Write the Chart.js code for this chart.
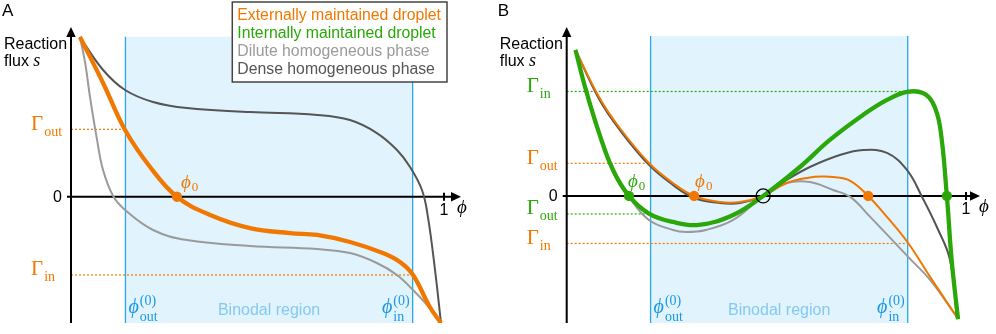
<!DOCTYPE html>
<html>
<head>
<meta charset="utf-8">
<script src="https://cdn.jsdelivr.net/npm/chart.js@4.4.1/dist/chart.umd.min.js"></script>
<style>
  html, body { margin: 0; padding: 0; background: #fff; }
  #wrap { position: relative; width: 996px; height: 334px; }
  canvas { position: absolute; top: 0; }
  #chartA { left: 0; }
  #chartB { left: 490px; }
</style>
</head>
<body>
<div id="wrap">
  <canvas id="chartA" width="490" height="334"></canvas>
  <canvas id="chartB" width="506" height="334"></canvas>
</div>
<script>
// ---- panel A: volume fraction phi vs reaction flux s ----
const phiExtA = [0.024, 0.086, 0.145, 0.212, 0.284, 0.373, 0.480, 0.587, 0.660, 0.748, 0.836, 0.882, 0.917, 0.962, 0.992];
const sExtA   = [0.998, 0.711, 0.417, 0.186, 0, -0.114, -0.196, -0.227, -0.239, -0.283, -0.352, -0.408, -0.489, -0.689, -0.789];

const phiDenseA = [0.024, 0.086, 0.145, 0.220, 0.311, 0.480, 0.660, 0.748, 0.820, 0.874, 0.909, 0.941, 0.957, 0.976, 0.992];
const sDenseA   = [0.998, 0.792, 0.667, 0.592, 0.554, 0.529, 0.511, 0.479, 0.398, 0.292, 0.186, 0.042, -0.127, -0.458, -0.789];

const phiDiluteA = [0.024, 0.038, 0.051, 0.070, 0.086, 0.113, 0.145, 0.220, 0.311, 0.480, 0.660, 0.748, 0.820, 0.874, 0.917, 0.962, 0.992];
const sDiluteA   = [0.998, 0.836, 0.623, 0.354, 0.167, 0.004, -0.083, -0.208, -0.271, -0.308, -0.327, -0.352, -0.414, -0.489, -0.583, -0.696, -0.789];

const binodalA = [0.146, 0.916];
const dotsExtA = [0.284];
const gammaOutA = 0.421, gammaInA = -0.489;

// ---- panel B ----
const phiIntB = [0.022, 0.048, 0.081, 0.116, 0.156, 0.206, 0.266, 0.331, 0.417, 0.492, 0.584, 0.659, 0.742, 0.802, 0.852, 0.892, 0.917, 0.935, 0.952, 0.964, 0.980];
const sIntB   = [0.9125, 0.6625, 0.394, 0.1625, 0, -0.11, -0.1625, -0.181, -0.119, 0, 0.181, 0.35, 0.506, 0.600, 0.650, 0.644, 0.581, 0.431, 0, -0.4, -0.77];

const phiExtB = [0.022, 0.081, 0.131, 0.206, 0.266, 0.319, 0.384, 0.434, 0.492, 0.551, 0.609, 0.640, 0.667, 0.710, 0.755, 0.802, 0.855, 0.910, 0.977];
const sExtB   = [0.9125, 0.619, 0.431, 0.206, 0.081, 0, -0.0375, -0.0375, 0, 0.081, 0.116, 0.122, 0.119, 0.095, 0, -0.131, -0.294, -0.506, -0.756];

const phiDenseB = [0.022, 0.081, 0.131, 0.206, 0.266, 0.319, 0.384, 0.434, 0.492, 0.551, 0.609, 0.684, 0.742, 0.802, 0.852, 0.890, 0.927, 0.960, 0.977];
const sDenseB   = [0.9125, 0.606, 0.419, 0.194, 0.069, -0.0125, -0.044, -0.044, 0, 0.1, 0.181, 0.256, 0.2875, 0.269, 0.1625, -0.006, -0.194, -0.4, -0.756];

const phiDiluteB = [0.022, 0.048, 0.081, 0.116, 0.156, 0.206, 0.266, 0.299, 0.349, 0.417, 0.492, 0.551, 0.609, 0.667, 0.710, 0.760, 0.855, 0.910, 0.977];
const sDiluteB   = [0.9125, 0.6625, 0.394, 0.15, -0.006, -0.15, -0.2125, -0.225, -0.2125, -0.15, 0, 0.081, 0.0875, 0.0375, -0.006, -0.131, -0.381, -0.525, -0.756];

const binodalB = [0.21, 0.854];
const dotsExtB = [0.319, 0.755];
const dotsIntB = [0.156, 0.952];
const crossB = [0.492];
const gammaInIntB = 0.653, gammaOutExtB = 0.204, gammaOutIntB = -0.1125, gammaInExtB = -0.297;

const binodalTop = 1.0;
const legendLabels = ['Externally maintained droplet', 'Internally maintained droplet', 'Dilute homogeneous phase', 'Dense homogeneous phase'];

const SANS = '"Liberation Sans", Arial, Helvetica, sans-serif';
const SERIF = '"Liberation Serif", "Times New Roman", "DejaVu Serif", serif';
const ORANGE = '#f07800', GREEN = '#2aa80a', LIGHT = '#9a9a9a', DARK = '#555555';
const BLUE = '#2aa7ec', BLUE_FILL = '#e1f3fd', BLUE_TEXT = '#84caf1', PHI_BLUE = '#1b98e0';
const legendColors = [ORANGE, GREEN, LIGHT, DARK];

const xy = (xs, ys) => xs.map((v, i) => ({ x: v, y: ys[i] }));

function curve(xs, ys, color, width, order) {
  return {
    data: xy(xs, ys), borderColor: color, borderWidth: width, pointRadius: 0,
    tension: 0.4, fill: false, order: order
  };
}

function dots(xs, color, r, fillColor, order) {
  return {
    data: xs.map(v => ({ x: v, y: 0 })), showLine: false, pointRadius: r,
    pointBackgroundColor: fillColor, pointBorderColor: color, pointBorderWidth: 1.3, order: order
  };
}

// text with a sub- and/or superscript after the main glyph
function mathText(ctx, x, y, main, o) {
  ctx.font = o.font;
  const mw = ctx.measureText(main).width;
  ctx.font = o.subFont;
  const sw = Math.max(o.sub ? ctx.measureText(o.sub).width : 0, o.sup ? ctx.measureText(o.sup).width : 0);
  const gap = o.gap || 1;
  const left = o.align === 'right' ? x - mw - gap - sw : x;
  ctx.fillStyle = o.color;
  ctx.textAlign = 'left';
  ctx.textBaseline = 'alphabetic';
  ctx.font = o.font;
  ctx.fillText(main, left, y);
  ctx.font = o.subFont;
  if (o.sub) ctx.fillText(o.sub, left + mw + gap, y + o.subDy);
  if (o.sup) ctx.fillText(o.sup, left + mw + gap, y + o.supDy);
}

function makeDecor(p) {
  return {
    id: 'decor',
    beforeDatasetsDraw(chart) {
      const { ctx, chartArea: ca, scales } = chart;
      const xs = scales.x, ys = scales.y;
      const x0 = xs.getPixelForValue(0), y0 = ys.getPixelForValue(0), x1 = xs.getPixelForValue(1);
      const bl = xs.getPixelForValue(p.binodal[0]), br = xs.getPixelForValue(p.binodal[1]);
      const bt = ys.getPixelForValue(binodalTop);
      ctx.save();
      ctx.fillStyle = BLUE_FILL;
      ctx.fillRect(bl, bt, br - bl, ca.bottom - bt);
      ctx.strokeStyle = BLUE;
      ctx.lineWidth = 1.3;
      ctx.beginPath();
      ctx.moveTo(bl, bt); ctx.lineTo(bl, ca.bottom);
      ctx.moveTo(br, bt); ctx.lineTo(br, ca.bottom);
      ctx.stroke();

      // dotted flux levels
      ctx.lineWidth = 1.2;
      ctx.setLineDash([2, 2]);
      p.levels.forEach(l => {
        const yy = ys.getPixelForValue(l.s);
        ctx.strokeStyle = l.color;
        ctx.beginPath();
        ctx.moveTo(x0, yy);
        ctx.lineTo(xs.getPixelForValue(l.to), yy);
        ctx.stroke();
      });
      ctx.setLineDash([]);

      // axes with arrows
      ctx.strokeStyle = '#000';
      ctx.fillStyle = '#000';
      ctx.lineWidth = 2;
      ctx.beginPath();
      ctx.moveTo(x0, ca.bottom); ctx.lineTo(x0, ca.top + 8);
      ctx.moveTo(x0 - 4, y0); ctx.lineTo(ca.right - 8, y0);
      ctx.moveTo(x1, y0 - 4); ctx.lineTo(x1, y0 + 4);
      ctx.stroke();
      ctx.beginPath();
      ctx.moveTo(x0, ca.top); ctx.lineTo(x0 - 4.7, ca.top + 10); ctx.lineTo(x0 + 4.7, ca.top + 10); ctx.closePath();
      ctx.moveTo(ca.right, y0); ctx.lineTo(ca.right - 10, y0 - 4.7); ctx.lineTo(ca.right - 10, y0 + 4.7); ctx.closePath();
      ctx.fill();
      ctx.restore();
    },
    afterDatasetsDraw(chart) {
      const { ctx, chartArea: ca, scales } = chart;
      const xs = scales.x, ys = scales.y;
      const x0 = xs.getPixelForValue(0), y0 = ys.getPixelForValue(0), x1 = xs.getPixelForValue(1);
      const bl = xs.getPixelForValue(p.binodal[0]), br = xs.getPixelForValue(p.binodal[1]);
      ctx.save();
      ctx.textAlign = 'left';
      ctx.textBaseline = 'alphabetic';
      ctx.fillStyle = '#000';
      ctx.font = '17px ' + SANS;
      ctx.fillText(p.letter, x0 - 69, 16);
      ctx.font = '16px ' + SANS;
      ctx.fillText('Reaction', x0 - 67, 49);
      ctx.fillText('flux', x0 - 67, 66);
      const fw = ctx.measureText('flux ').width;
      ctx.font = 'italic 18px ' + SERIF;
      ctx.fillText('s', x0 - 67 + fw, 66);

      ctx.font = '16px ' + SANS;
      ctx.textAlign = 'right';
      ctx.fillText('0', x0 - 9, y0 + 5.5);
      ctx.textAlign = 'center';
      ctx.fillText('1', x1, y0 + 18);
      ctx.textAlign = 'left';
      ctx.font = 'italic 19px ' + SERIF;
      ctx.fillText('\u03D5', x1 + 13, y0 + 16);

      // Gamma labels
      p.levels.forEach(l => {
        mathText(ctx, x0 - 40, ys.getPixelForValue(l.s) + 0.5, '\u0393', {
          font: '21px ' + SERIF, subFont: '14px ' + SERIF, sub: l.sub, subDy: 6, color: l.color
        });
      });

      // phi_0 labels at the marked roots
      p.phiLabels.forEach(l => {
        mathText(ctx, xs.getPixelForValue(l.phi) + l.dx, y0 - 9, '\u03D5', {
          font: 'italic 19px ' + SERIF, subFont: '13px ' + SERIF, sub: '0', subDy: 3, color: l.color
        });
      });

      // binodal labels
      const bOpt = { font: 'italic 20px ' + SERIF, subFont: '14px ' + SERIF, sup: '(0)', supDy: -8.5, subDy: 7.5, color: PHI_BLUE };
      mathText(ctx, bl + 3, ca.bottom - 10, '\u03D5', Object.assign({}, bOpt, { sub: 'out' }));
      mathText(ctx, br - 3, ca.bottom - 10, '\u03D5', Object.assign({}, bOpt, { sub: 'in', align: 'right' }));
      ctx.font = '16px ' + SANS;
      ctx.fillStyle = BLUE_TEXT;
      ctx.textAlign = 'center';
      ctx.fillText('Binodal region', (bl + br) / 2, ca.bottom - 8);

      if (p.legend) {
        ctx.font = '15.8px ' + SANS;
        ctx.textAlign = 'left';
        const tw = Math.max(...legendLabels.map(t => ctx.measureText(t).width));
        const right = ca.right - 14, left = right - tw - 11, top = 2, bottom = 82;
        ctx.fillStyle = '#fff';
        ctx.fillRect(left, top, right - left, bottom - top);
        ctx.strokeStyle = '#444';
        ctx.lineWidth = 1.5;
        ctx.strokeRect(left, top, right - left, bottom - top);
        legendLabels.forEach((t, i) => {
          ctx.fillStyle = legendColors[i];
          ctx.fillText(t, left + 5, 20 + i * 18);
        });
      }
      ctx.restore();
    }
  };
}

function options(pad, xmax, ymin, ymax) {
  return {
    responsive: false, animation: false, devicePixelRatio: 1, events: [],
    layout: { padding: pad },
    plugins: { legend: { display: false }, tooltip: { enabled: false } },
    scales: {
      x: { type: 'linear', min: 0, max: xmax, display: false },
      y: { type: 'linear', min: ymin, max: ymax, display: false }
    }
  };
}

new Chart(document.getElementById('chartA'), {
  type: 'line',
  data: {
    datasets: [
      dots(dotsExtA, ORANGE, 4.5, ORANGE, 0),
      curve(phiExtA, sExtA, ORANGE, 4.3, 1),
      curve(phiDenseA, sDenseA, DARK, 2, 2),
      curve(phiDiluteA, sDiluteA, LIGHT, 2, 3)
    ]
  },
  options: options({ left: 71, right: 29, top: 27, bottom: 11 }, 1.0456, -0.789, 1.0606),
  plugins: [makeDecor({
    letter: 'A', binodal: binodalA, legend: true,
    levels: [
      { s: gammaOutA, to: binodalA[0], color: ORANGE, sub: 'out' },
      { s: gammaInA, to: binodalA[1], color: ORANGE, sub: 'in' }
    ],
    phiLabels: [{ phi: dotsExtA[0], dx: 4, color: ORANGE }]
  })]
});

new Chart(document.getElementById('chartB'), {
  type: 'line',
  data: {
    datasets: [
      dots(crossB, '#000', 7, 'rgba(0,0,0,0)', 0),
      dots(dotsIntB, GREEN, 4.5, GREEN, 0),
      dots(dotsExtB, ORANGE, 4.5, ORANGE, 0),
      curve(phiIntB, sIntB, GREEN, 4.3, 1),
      curve(phiExtB, sExtB, ORANGE, 2, 2),
      curve(phiDenseB, sDenseB, DARK, 2, 3),
      curve(phiDiluteB, sDiluteB, LIGHT, 2, 4)
    ]
  },
  options: options({ left: 76.7, right: 16, top: 27, bottom: 11 }, 1.035, -0.794, 1.056),
  plugins: [makeDecor({
    letter: 'B', binodal: binodalB, legend: false,
    levels: [
      { s: gammaInIntB, to: binodalB[1], color: GREEN, sub: 'in' },
      { s: gammaOutExtB, to: binodalB[0], color: ORANGE, sub: 'out' },
      { s: gammaOutIntB, to: binodalB[0], color: GREEN, sub: 'out' },
      { s: gammaInExtB, to: binodalB[1], color: ORANGE, sub: 'in' }
    ],
    phiLabels: [
      { phi: dotsIntB[0], dx: -1, color: GREEN },
      { phi: dotsExtB[0], dx: 1, color: ORANGE }
    ]
  })]
});
</script>
</body>
</html>
